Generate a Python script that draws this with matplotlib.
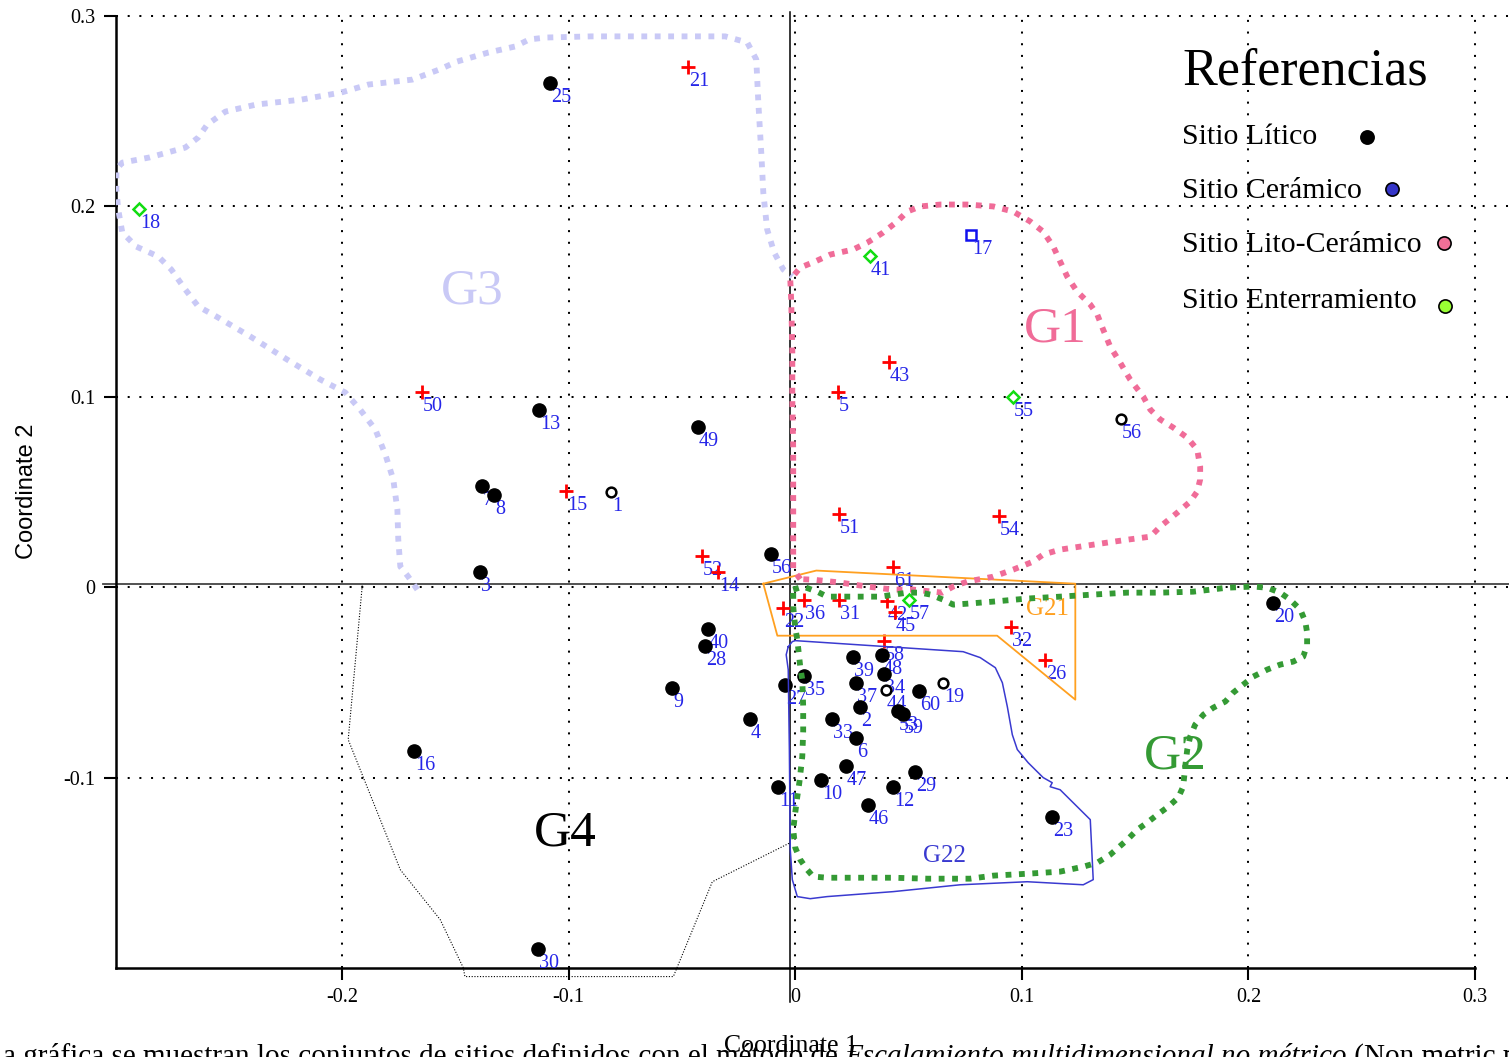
import matplotlib
matplotlib.use("Agg")
import matplotlib.pyplot as plt

plt.rcParams["font.family"] = ["Liberation Serif", "DejaVu Serif"]

# --- site points (Coordinate 1, Coordinate 2) ---
litico_lab = ["25", "13", "49", "7", "8", "3", "56", "40", "28", "9", "4", "27", "35", "39", "48",
              "34", "37", "2", "60", "53", "59", "33", "6", "47", "10", "12", "29", "46", "11", "23",
              "20", "16", "30"]
litico_x = [-0.1082, -0.1130, -0.0428, -0.1382, -0.1329, -0.1391, -0.0106, -0.0384, -0.0397, -0.0543,
            -0.0199, -0.0044, 0.0040, 0.0256, 0.0384, 0.0393, 0.0269, 0.0287, 0.0547, 0.0455,
            0.0477, 0.0163, 0.0269, 0.0225, 0.0115, 0.0433, 0.0530, 0.0322, -0.0075, 0.1135,
            0.2110, -0.1682, -0.1135]
litico_y = [0.2646, 0.0929, 0.0840, 0.0530, 0.0483, 0.0079, 0.0173, -0.0220, -0.0310, -0.0530,
            -0.0693, -0.0514, -0.0467, -0.0367, -0.0357, -0.0457, -0.0504, -0.0630, -0.0546, -0.0651,
            -0.0667, -0.0693, -0.0793, -0.0940, -0.1013, -0.1050, -0.0971, -0.1144, -0.1050, -0.1207,
            -0.0084, -0.0861, -0.1900]

cruz_lab = ["21", "50", "15", "52", "14", "43", "5", "51", "54", "61", "36", "31", "22", "42", "45",
            "58", "32", "26"]
cruz_x = [-0.0472, -0.1647, -0.1011, -0.0411, -0.0340, 0.0415, 0.0190, 0.0194, 0.0901, 0.0433,
          0.0040, 0.0194, -0.0053, 0.0406, 0.0442, 0.0393, 0.0954, 0.1104]
cruz_y = [0.2730, 0.1024, 0.0504, 0.0163, 0.0079, 0.1181, 0.1024, 0.0383, 0.0373, 0.0105,
          -0.0068, -0.0068, -0.0110, -0.0073, -0.0131, -0.0283, -0.0210, -0.0383]

enterr_lab = ["18", "41", "55", "57"]
enterr_x = [-0.2896, 0.0331, 0.0962, 0.0503]
enterr_y = [0.1984, 0.1738, 0.0997, -0.0068]

ceram_lab = ["17"]
ceram_x = [0.0777]
ceram_y = [0.1848]

hueco_lab = ["1", "56", "19", "44"]
hueco_x = [-0.0812, 0.1439, 0.0653, 0.0402]
hueco_y = [0.0499, 0.0882, -0.0504, -0.0541]

# --- group outlines ---
g3_x = [-0.1668, -0.1708, -0.1743, -0.1752, -0.1756, -0.1774, -0.1809, -0.1853, -0.1920, -0.1986,
        -0.2096, -0.2229, -0.2405, -0.2555, -0.2635, -0.2692, -0.2754, -0.2811, -0.2908, -0.2970,
        -0.2988, -0.2996, -0.2996, -0.2970, -0.2851, -0.2692, -0.2635, -0.2595, -0.2515, -0.2379,
        -0.2180, -0.2004, -0.1884, -0.1690, -0.1571, -0.1492, -0.1355, -0.1236, -0.1174, -0.1099,
        -0.0900, -0.0309, -0.0212, -0.0172, -0.0163, -0.0150, -0.0141, -0.0124, -0.0093, -0.0053,
        -0.0013]
g3_y = [-0.0013, 0.0055, 0.0108, 0.0249, 0.0407, 0.0565, 0.0696, 0.0827, 0.0932, 0.1022,
        0.1090, 0.1185, 0.1316, 0.1421, 0.1474, 0.1563, 0.1668, 0.1736, 0.1788, 0.1862,
        0.1983, 0.2088, 0.2193, 0.2229, 0.2256, 0.2308, 0.2361, 0.2429, 0.2497, 0.2534,
        0.2560, 0.2597, 0.2639, 0.2665, 0.2718, 0.2760, 0.2807, 0.2839, 0.2876, 0.2886,
        0.2892, 0.2892, 0.2860, 0.2771, 0.2545, 0.2282, 0.2072, 0.1878, 0.1757, 0.1668,
        0.1631]

g1_x = [0.0022, -0.0009, -0.0009, -0.0009, -0.0009, -0.0013, -0.0013, -0.0018, -0.0022, 0.0022,
        0.0088, 0.0154, 0.0256, 0.0318, 0.0388, 0.0450, 0.0494, 0.0552, 0.0640, 0.0759,
        0.0874, 0.0962, 0.1037, 0.1094, 0.1139, 0.1169, 0.1200, 0.1244, 0.1302, 0.1333,
        0.1359, 0.1390, 0.1434, 0.1478, 0.1536, 0.1567, 0.1611, 0.1668, 0.1730, 0.1774,
        0.1787, 0.1787, 0.1774, 0.1743, 0.1686, 0.1611, 0.1567, 0.1465, 0.1315, 0.1169,
        0.1094, 0.1050, 0.0962, 0.0874, 0.0759, 0.0697, 0.0649, 0.0521, 0.0432, 0.0318,
        0.0199, 0.0079, 0.0022]
g1_y = [0.0042, 0.0092, 0.0197, 0.0460, 0.0722, 0.0985, 0.1248, 0.1510, 0.1615, 0.1678,
        0.1710, 0.1746, 0.1773, 0.1809, 0.1862, 0.1920, 0.1972, 0.1999, 0.2009, 0.2009,
        0.1999, 0.1972, 0.1920, 0.1867, 0.1788, 0.1710, 0.1631, 0.1552, 0.1484, 0.1431,
        0.1352, 0.1263, 0.1179, 0.1090, 0.1000, 0.0932, 0.0880, 0.0838, 0.0785, 0.0722,
        0.0633, 0.0565, 0.0502, 0.0449, 0.0391, 0.0318, 0.0265, 0.0249, 0.0223, 0.0197,
        0.0171, 0.0134, 0.0092, 0.0055, 0.0029, 0.0003, -0.0029, -0.0013, -0.0013, 0.0003,
        0.0024, 0.0039, 0.0042]

g2_x = [-0.0009, 0.0035, 0.0097, 0.0141, 0.0199, 0.0256, 0.0375, 0.0494, 0.0552, 0.0596,
        0.0653, 0.0697, 0.0759, 0.0874, 0.1024, 0.1169, 0.1315, 0.1465, 0.1611, 0.1756,
        0.1906, 0.2021, 0.2083, 0.2140, 0.2184, 0.2229, 0.2251, 0.2259, 0.2259, 0.2242,
        0.2198, 0.2140, 0.2083, 0.2021, 0.1977, 0.1933, 0.1898, 0.1845, 0.1801, 0.1765,
        0.1743, 0.1730, 0.1721, 0.1712, 0.1690, 0.1646, 0.1598, 0.1553, 0.1509, 0.1465,
        0.1390, 0.1333, 0.1271, 0.1169, 0.1024, 0.0874, 0.0772, 0.0583, 0.0432, 0.0287,
        0.0141, 0.0079, 0.0053, 0.0022, 0.0000, -0.0009, 0.0000, 0.0009, 0.0018, 0.0031,
        0.0035, 0.0035, 0.0031, 0.0022, 0.0009, 0.0000, -0.0009, -0.0009]
g2_y = [-0.0013, 0.0003, -0.0024, -0.0050, -0.0050, -0.0050, -0.0050, -0.0029, -0.0029, -0.0039,
        -0.0066, -0.0092, -0.0087, -0.0076, -0.0060, -0.0050, -0.0039, -0.0029, -0.0029, -0.0024,
        -0.0003, 0.0003, -0.0003, -0.0029, -0.0066, -0.0118, -0.0181, -0.0239, -0.0302, -0.0365,
        -0.0391, -0.0407, -0.0433, -0.0470, -0.0512, -0.0554, -0.0601, -0.0633, -0.0670, -0.0722,
        -0.0785, -0.0853, -0.0943, -0.1048, -0.1106, -0.1153, -0.1195, -0.1237, -0.1274, -0.1327,
        -0.1405, -0.1447, -0.1468, -0.1494, -0.1505, -0.1515, -0.1531, -0.1531, -0.1526, -0.1526,
        -0.1526, -0.1520, -0.1484, -0.1431, -0.1368, -0.1274, -0.1184, -0.1100, -0.1027, -0.0890,
        -0.0759, -0.0628, -0.0486, -0.0418, -0.0276, -0.0213, -0.0102, -0.0013]

g21_x = [-0.0141, 0.0093, 0.1236, 0.1236, 0.0891, -0.0079, -0.0141]
g21_y = [0.0018, 0.0087, 0.0018, -0.0591, -0.0255, -0.0255, 0.0018]

g22_x = [-0.0031, -0.0013, 0.0000, 0.0741, 0.0816, 0.0883, 0.0914, 0.0936, 0.0958, 0.0980,
         0.1028, 0.1094, 0.1134, 0.1125, 0.1169, 0.1302, 0.1315, 0.1271, 0.1024, 0.0728,
         0.0432, 0.0141, 0.0066, 0.0009, -0.0013, -0.0022, -0.0026, -0.0031, -0.0040, -0.0031]
g22_y = [-0.0313, -0.0286, -0.0281, -0.0339, -0.0370, -0.0423, -0.0502, -0.0628, -0.0775, -0.0853,
         -0.0922, -0.1000, -0.1027, -0.1048, -0.1064, -0.1221, -0.1536, -0.1563, -0.1547, -0.1563,
         -0.1599, -0.1625, -0.1636, -0.1625, -0.1536, -0.1379, -0.0853, -0.0433, -0.0355, -0.0313]

g4_x = [-0.1911, -0.1973, -0.1743, -0.1567, -0.1465, -0.1458, -0.0538, -0.0366, -0.0022]
g4_y = [0.0008, -0.0801, -0.1484, -0.1746, -0.1999, -0.2045, -0.2045, -0.1547, -0.1342]

leyenda = ["Sitio Lítico", "Sitio Cerámico", "Sitio Lito-Cerámico", "Sitio Enterramiento"]
leyenda_col = ["black", "#3535c8", "#f07098", "#99ff33"]

LAB = "#2626e8"

fig = plt.figure(figsize=(15.09, 10.57), dpi=100)
ax = fig.add_axes([115.5 / 1509, 89 / 1057, 1393.5 / 1509, 956 / 1057])
ax.set_xlim(-0.3, 0.315)
ax.set_ylim(-0.2, 0.302)

for s in ["top", "right"]:
    ax.spines[s].set_visible(False)
ax.spines["left"].set_linewidth(1.8)
ax.spines["bottom"].set_linewidth(1.8)
ax.spines["bottom"].set_bounds(-0.3, 0.3)
ax.spines["left"].set_bounds(-0.2, 0.3)

ax.set_xticks([-0.2, -0.1, 0, 0.1, 0.2, 0.3])
ax.set_xticklabels(["-0.2", "-0.1", "0", "0.1", "0.2", "0.3"])
ax.set_yticks([-0.1, 0, 0.1, 0.2, 0.3])
ax.set_yticklabels(["-0.1", "0", "0.1", "0.2", "0.3"])
ax.tick_params(direction="out", length=8.5, width=1.5, labelsize=14.5, pad=6)
ax.grid(True, color="black", linestyle=(0, (1, 4.8)), linewidth=1.45)
ax.set_axisbelow(False)

# reference lines through the origin
ax.plot([-0.0023, -0.0023], [0.302, -0.218], color="black", lw=1.1, clip_on=False, zorder=2)
ax.plot([-0.3054, 0.315], [0.0019, 0.0019], color="#444444", lw=1.3, clip_on=False, zorder=2)

# outlines
dots = (0, (1, 1.3))
ax.plot(g3_x, g3_y, color="#c9c9f6", lw=4.2, linestyle=dots, zorder=6)
ax.plot(g1_x, g1_y, color="#f06c98", lw=4.2, linestyle=dots, zorder=6)
ax.plot(g2_x, g2_y, color="#349a34", lw=4.2, linestyle=dots, zorder=6)
ax.plot(g21_x, g21_y, color="#ffa020", lw=1.3, zorder=5)
ax.plot(g22_x, g22_y, color="#3a3ad0", lw=1.1, zorder=5)
ax.plot(g4_x, g4_y, color="black", lw=0.8, linestyle=(0, (1, 1.5)), zorder=5, clip_on=False)

# markers
ax.plot(litico_x, litico_y, "o", color="black", ms=9.5, zorder=4)
ax.plot(cruz_x, cruz_y, "+", color="red", ms=10, mew=2, zorder=4)
ax.plot(enterr_x, enterr_y, "D", mfc="white", mec="#11dd11", ms=6, mew=1.8, zorder=4)
ax.plot(ceram_x, ceram_y, "s", mfc="white", mec="#1111ee", ms=7.5, mew=1.8, zorder=4)
ax.plot(hueco_x, hueco_y, "o", mfc="white", mec="black", ms=7, mew=1.8, zorder=4)

for labs, xs, ys in [(litico_lab, litico_x, litico_y), (cruz_lab, cruz_x, cruz_y),
                     (enterr_lab, enterr_x, enterr_y), (ceram_lab, ceram_x, ceram_y),
                     (hueco_lab, hueco_x, hueco_y)]:
    for t, x, y in zip(labs, xs, ys):
        ax.annotate(t, (x, y), xytext=(0.5, -10.5), textcoords="offset points",
                    ha="left", va="center", color=LAB, fontsize=14.5, zorder=3)

# group names
ax.text(-0.1425, 0.1552, "G3", color="#c9c9f6", fontsize=37, ha="center", va="center", zorder=3)
ax.text(0.1147, 0.1353, "G1", color="#f06c98", fontsize=37, ha="center", va="center", zorder=3)
ax.text(0.1677, -0.0890, "G2", color="#349a34", fontsize=37, ha="center", va="center", zorder=3)
ax.text(-0.1015, -0.1294, "G4", color="black", fontsize=37, ha="center", va="center", zorder=3)
ax.text(0.1112, -0.0115, "G21", color="#ffa020", fontsize=18, ha="center", va="center", zorder=3)
ax.text(0.0658, -0.1412, "G22", color="#3a3ad0", fontsize=18, ha="center", va="center", zorder=3)

# legend block
ax.text(0.1708, 0.2705, "Referencias", fontsize=37.5, ha="left", va="center", zorder=3)
ley_y = [0.2362, 0.2078, 0.1794, 0.1505]
ley_mx = [0.2524, 0.2635, 0.2864, 0.2868]
ley_my = [0.2366, 0.2088, 0.1809, 0.1478]
for t, c, ty, mx, my in zip(leyenda, leyenda_col, ley_y, ley_mx, ley_my):
    ax.text(0.1708, ty, t, fontsize=21.5, ha="left", va="center", zorder=3)
    ax.plot(mx, my, "o", mfc=c, mec="black", ms=9.5, mew=1.2, zorder=4, clip_on=False)

fig.text(27 / 1509, 1 - 491 / 1057, "Coordinate 2", rotation=90, ha="center", va="center",
         fontsize=17, family=["Liberation Sans", "DejaVu Sans"])

# caption (cut by the bottom and left edges)
r = fig.canvas.get_renderer()
yb = -7 / 1057
fig.text(3 / 1509, yb, "En l", fontsize=21, va="baseline", ha="right")
t1 = fig.text(3 / 1509, yb, "a gráfica se muestran los conjuntos de sitios definidos con el método de ",
              fontsize=21, va="baseline")
bb = t1.get_window_extent(r)
t2 = fig.text(bb.x1 / fig.bbox.width, yb, "Escalamiento multidimensional no métrico",
              fontsize=21, va="baseline", style="italic")
bb = t2.get_window_extent(r)
fig.text(bb.x1 / fig.bbox.width, yb, " (Non metric multidimensional scaling).",
         fontsize=21, va="baseline")

fig.text(791 / 1509, 1 - 1046 / 1057, "Coordinate 1", ha="center", va="center", fontsize=18.5)

fig.savefig("out.png", dpi=100)
